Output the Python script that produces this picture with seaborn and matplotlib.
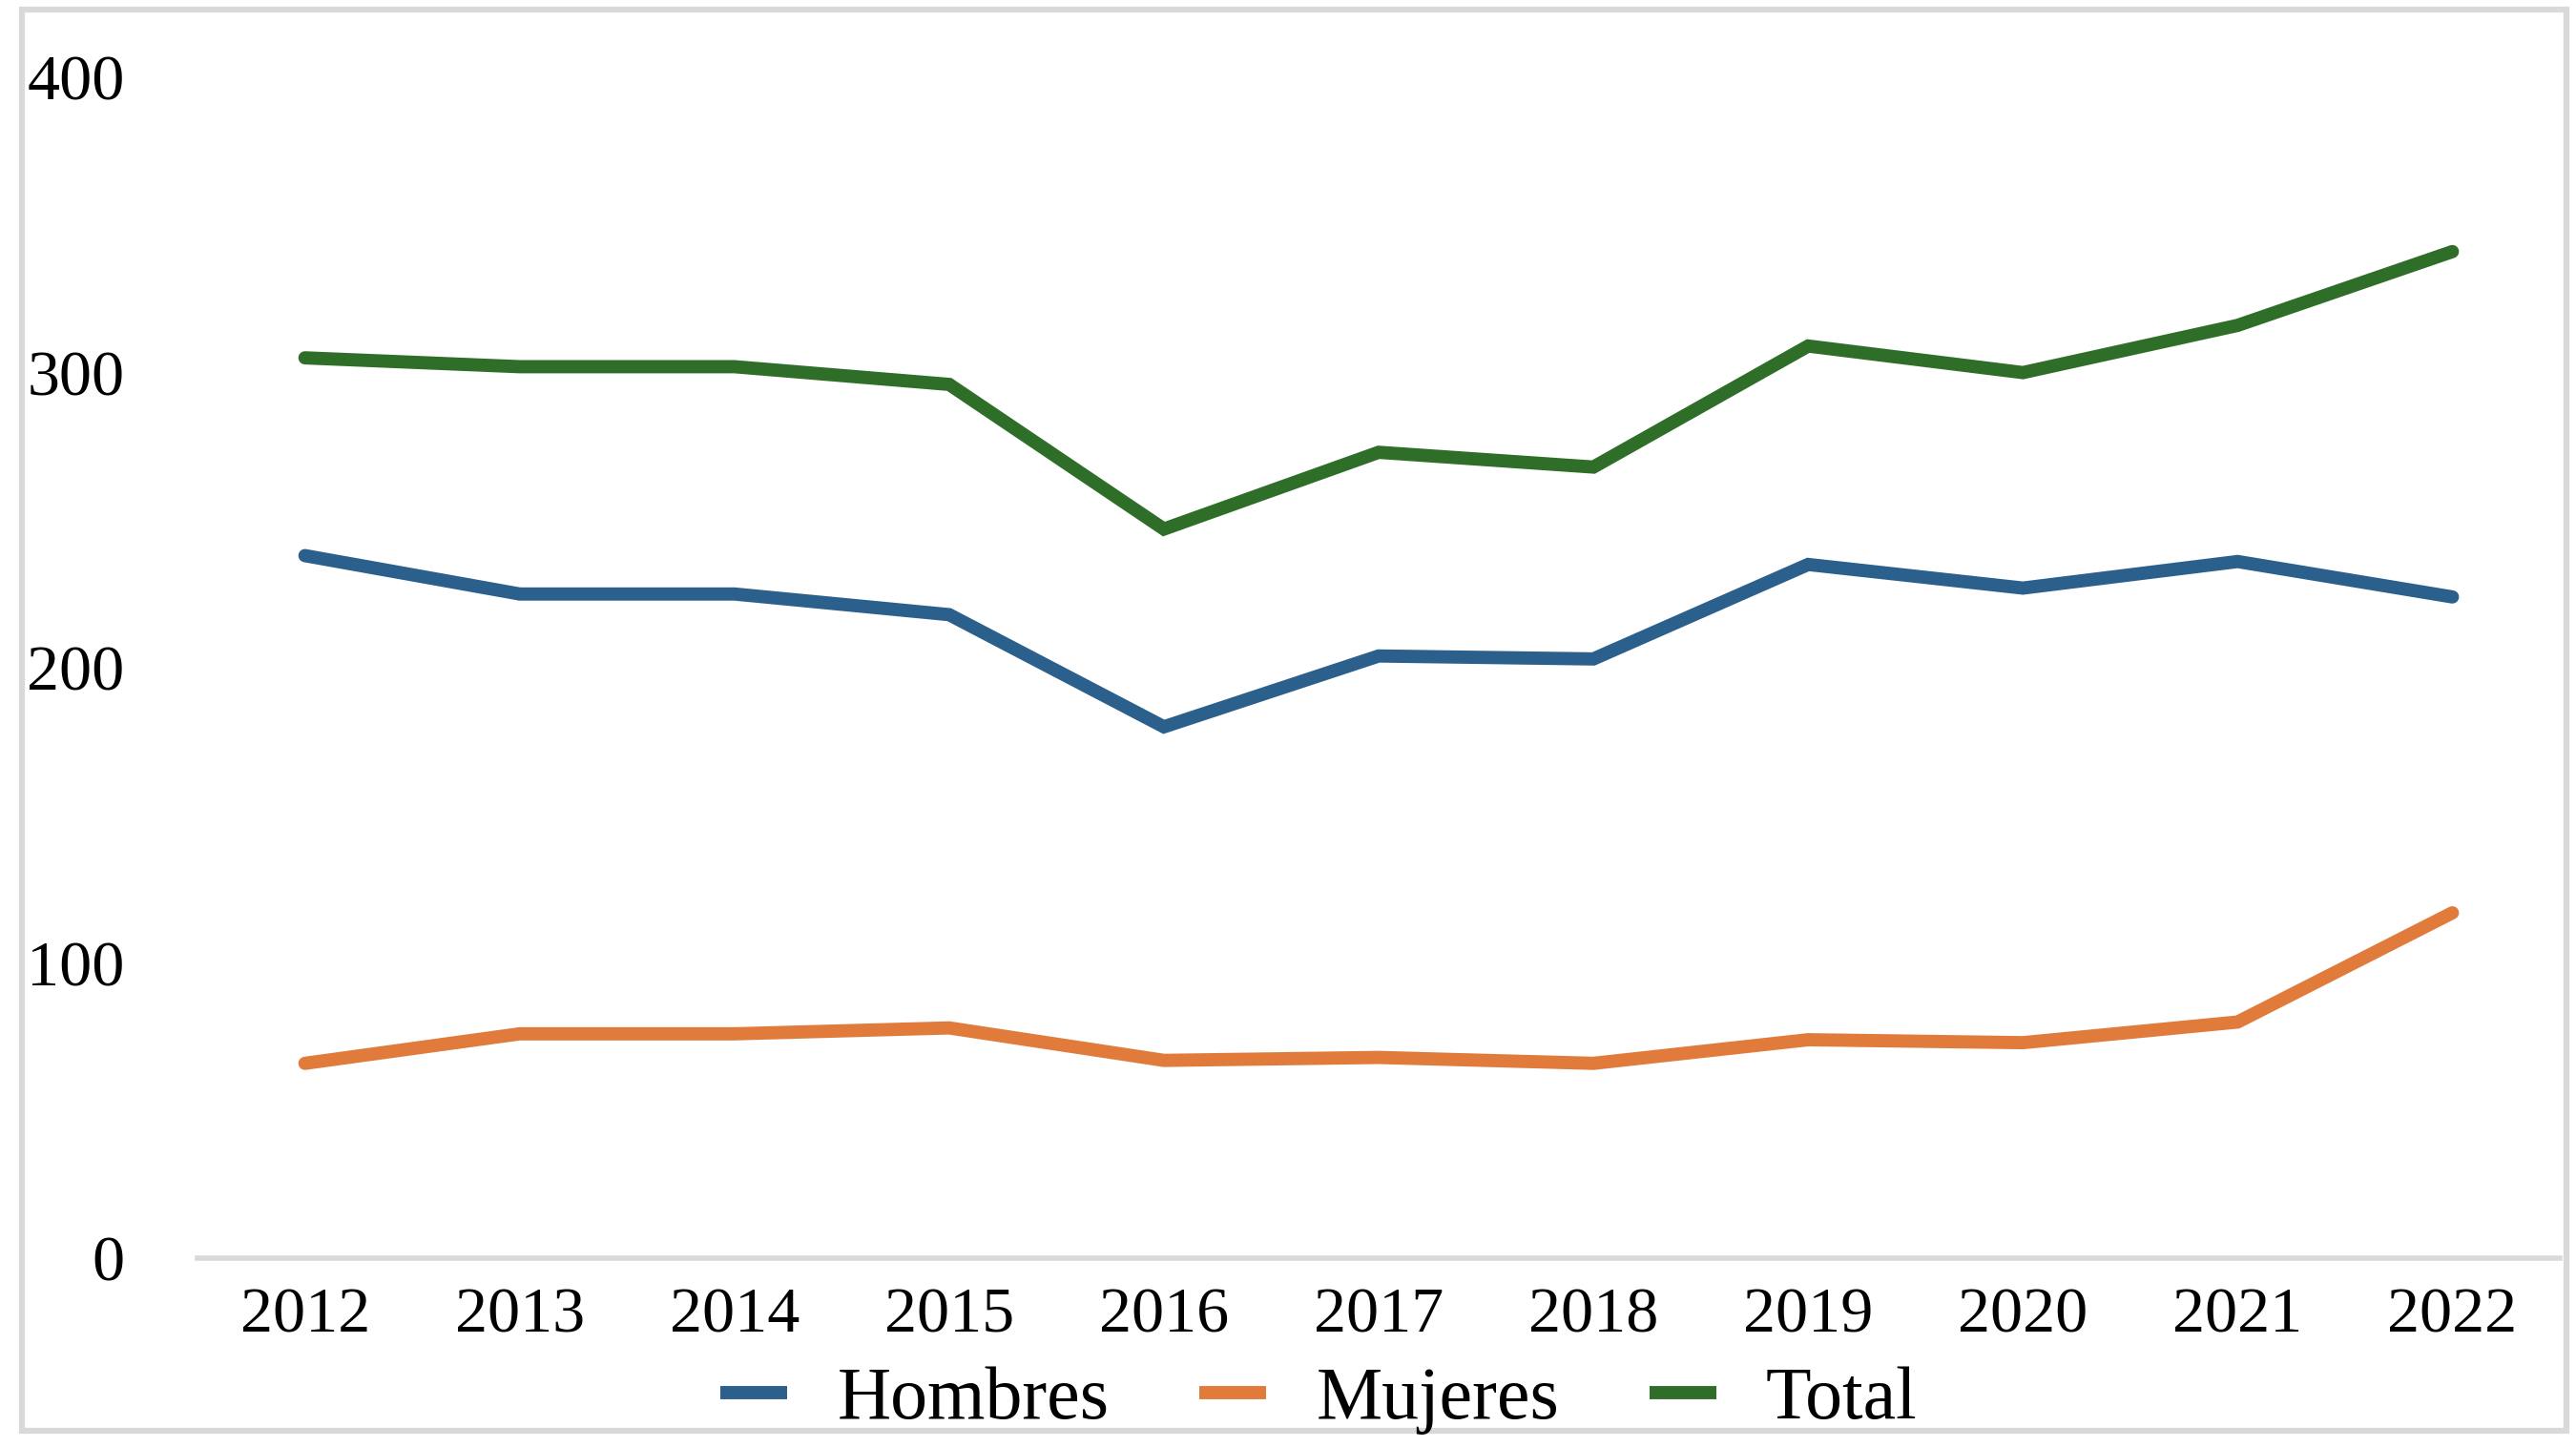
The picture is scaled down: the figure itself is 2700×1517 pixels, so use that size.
import pandas as pd
import matplotlib.pyplot as plt
import seaborn as sns
from matplotlib.patches import Rectangle

years = [2012, 2013, 2014, 2015, 2016, 2017, 2018, 2019, 2020, 2021, 2022]
hombres = [238, 225, 225, 218, 180, 204, 203, 235, 227, 236, 224]
mujeres = [66, 76, 76, 78, 67, 68, 66, 74, 73, 80, 117]
total = [305, 302, 302, 296, 247, 273, 268, 309, 300, 316, 341]

series_names = ['Hombres', 'Mujeres', 'Total']
colors = ['#2B5F8C', '#E07B3C', '#2F6E28']


def make_plot():
    df = pd.DataFrame({
        'year': [str(y) for y in years] * 3,
        'value': hombres + mujeres + total,
        'serie': [n for n in series_names for _ in years],
    })

    sns.set_style('white')
    plt.rcParams['font.family'] = ['Liberation Serif', 'DejaVu Serif']
    plt.rcParams['text.color'] = 'black'

    fig = plt.figure(figsize=(27, 15.17), dpi=100)
    ax = fig.add_axes([0.0767, 0.1305, 0.917, 0.816])

    sns.lineplot(
        data=df, x='year', y='value', hue='serie',
        palette=colors, linewidth=10, ax=ax, legend=False,
        solid_capstyle='round', solid_joinstyle='miter'
    )

    ax.set_xlim(-0.5, len(years) - 0.5)
    ax.set_ylim(0, 400)
    ax.set_yticks([0, 100, 200, 300, 400])
    ax.set_xlabel('')
    ax.set_ylabel('')
    ax.tick_params(axis='both', labelsize=49, length=0, colors='black')
    ax.tick_params(axis='y', pad=55)
    ax.tick_params(axis='x', pad=22)

    for s in ['top', 'right', 'left']:
        ax.spines[s].set_visible(False)
    ax.spines['bottom'].set_color('#D9D9D9')
    ax.spines['bottom'].set_linewidth(4)

    handles = [plt.Line2D([], [], color=c, linewidth=10, solid_capstyle='butt')
               for c in colors]
    fig.legend(handles, series_names, loc='center',
               bbox_to_anchor=(0.512, 0.032), ncol=3, frameon=False,
               fontsize=56, handlelength=0.9, handletextpad=0.67,
               columnspacing=1.22, borderaxespad=0, labelcolor='black')

    fig.patches.append(Rectangle(
        (23 / 2700, 1 - 1500 / 1517), (2690 - 23) / 2700, (1500 - 10) / 1517,
        transform=fig.transFigure, fill=False, edgecolor='#D9D9D9',
        linewidth=4.5))

    fig.savefig('out.png', dpi=100)


if __name__ == '__main__':
    make_plot()
